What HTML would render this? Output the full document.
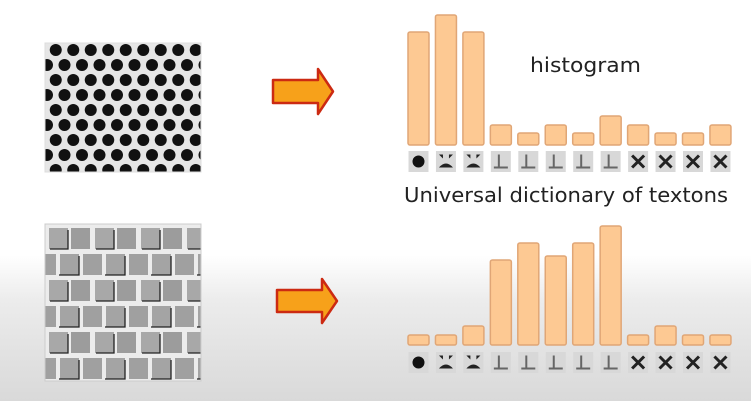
<!DOCTYPE html>
<html><head><meta charset="utf-8"><style>
html,body{margin:0;padding:0}
body{width:751px;height:401px;overflow:hidden;background:linear-gradient(#fff 0,#fff 255px,#ececec 300px,#d9d9d9 401px);font-family:"DejaVu Sans","Liberation Sans",sans-serif;position:relative}
svg{position:absolute;left:0;top:0}
</style></head><body>
<svg width="751" height="401">
<defs>
<pattern id="dots" width="17.5" height="30" patternUnits="userSpaceOnUse" x="47" y="43">
<rect width="17.5" height="30" fill="#e6e6e6"/>
<circle cx="8.75" cy="7" r="6" fill="#111"/>
<circle cx="0" cy="22" r="6" fill="#111"/><circle cx="17.5" cy="22" r="6" fill="#111"/>
</pattern>
<pattern id="bricks" width="46" height="52" patternUnits="userSpaceOnUse" x="46" y="226">
<rect width="46" height="52" fill="#ececec"/>
<rect x="3" y="2" width="19" height="21" fill="#a8a8a8"/><rect x="25" y="2" width="19" height="21" fill="#9c9c9c"/>
<rect x="14" y="28" width="19" height="21" fill="#a4a4a4"/><rect x="-9" y="28" width="19" height="21" fill="#a0a0a0"/><rect x="37" y="28" width="19" height="21" fill="#a0a0a0"/>
<path d="M22 4v19h-18M33 30v19h-20" stroke="#222" stroke-width="1.3" fill="none"/>
</pattern>
</defs>
<rect x="45" y="43" width="156" height="129" fill="url(#dots)" stroke="#ddd"/>
<rect x="45" y="224" width="156" height="157" fill="url(#bricks)" stroke="#ccc"/>
<path d="M273 80h45v-11l15 22.5-15 22.5v-11h-45z" fill="#f7a11a" stroke="#cc2a12" stroke-width="2.5" stroke-linejoin="round"/>
<path d="M277 290h45v-11l15 22-15 22v-11h-45z" fill="#f7a11a" stroke="#cc2a12" stroke-width="2.5" stroke-linejoin="round"/>
<text x="530" y="72" font-size="20" textLength="111" lengthAdjust="spacingAndGlyphs" fill="#222">histogram</text>
<text x="404" y="202" font-size="20" textLength="324" lengthAdjust="spacingAndGlyphs" fill="#222">Universal dictionary of textons</text>
<g id="bars"></g>
</svg>
<script>
const textons=["dot","blob-a","blob-b","lines-a","grid","corner-a","corner-b","edge","ring","splat","cross","star"];
const topHist=[113,130,113,20,12,20,12,29,20,12,12,20];
const botHist=[10,10,19,85,102,89,102,119,10,19,10,10];
const NS="http://www.w3.org/2000/svg";
const g=document.getElementById('bars');
function xPos(i){return 408+i*27.45;}
function yTop(base,v){return base-v;}
function mk(t,a){const e=document.createElementNS(NS,t);for(const k in a)e.setAttribute(k,a[k]);g.appendChild(e);return e;}
function drawChart(vals,base,iconY,prefix){
  vals.forEach((v,i)=>{
    const r=mk('rect',{x:xPos(i),y:yTop(base,v),width:21,height:v,rx:2,fill:'#fdc993',stroke:'#e0a676','stroke-width':1.5});
    
    
    const ic=mk('rect',{x:xPos(i)+0.5,y:iconY,width:20,height:21,fill:'#d8d8d8'});
    
    
    const cx=xPos(i)+10.5,cy=iconY+10.5;
    if(i==0)mk('circle',{cx:cx,cy:cy,r:6,fill:'#111'});
    else if(i<3)mk('path',{d:`M${cx-7} ${cy+6}q7-8 14 0zM${cx-7} ${cy-7}h4v4zM${cx+7} ${cy-7}h-4v4z`,fill:'#222'});
    else if(i<8)mk('path',{d:`M${cx-7} ${cy+6}h14M${cx-2} ${cy-7}v13`,stroke:'#666','stroke-width':2});
    else mk('path',{d:`M${cx-6} ${cy-6}L${cx+6} ${cy+6}M${cx+6} ${cy-6}L${cx-6} ${cy+6}`,stroke:'#222','stroke-width':3});
  });
}
drawChart(topHist,145,151,'top');
drawChart(botHist,345,352,'bottom');
</script>
</body></html>
